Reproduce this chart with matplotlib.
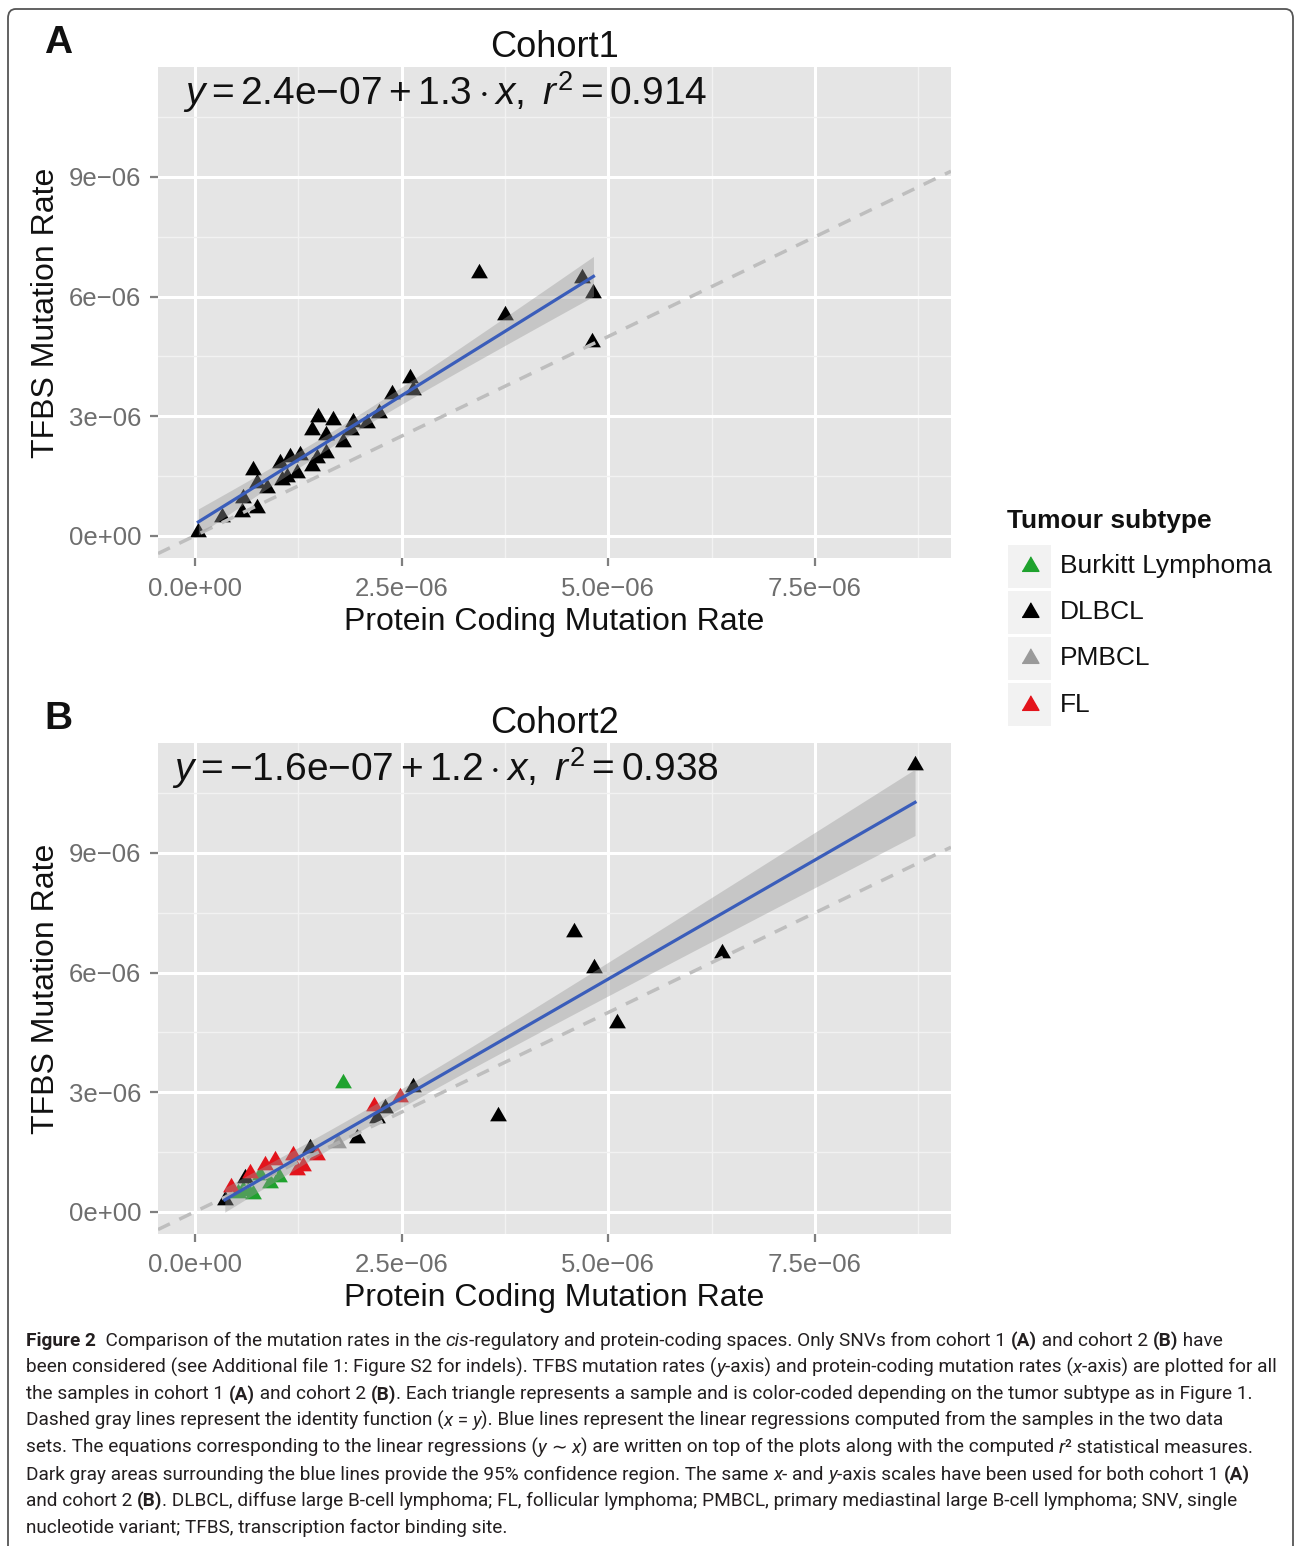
"""
Mutation rates in TFBS vs protein-coding regions for two cohorts,
with a linear fit, its 95% confidence band and the identity line.
"""

import re

import matplotlib
matplotlib.use("Agg")
import matplotlib.pyplot as plt
import numpy as np
from matplotlib.font_manager import FontProperties
from matplotlib.patches import FancyBboxPatch, Rectangle

W, H = 1295, 1546

plt.rcParams["font.family"] = ["Liberation Sans", "DejaVu Sans"]
plt.rcParams["mathtext.fontset"] = "custom"
plt.rcParams["mathtext.rm"] = "Liberation Sans"
plt.rcParams["mathtext.it"] = "Liberation Sans:italic"
plt.rcParams["mathtext.bf"] = "Liberation Sans:bold"

# ---- data (rates in units of 1e-06) ----
SUBTYPES = ["Burkitt Lymphoma", "DLBCL", "PMBCL", "FL"]
SUBTYPE_COLORS = ["#1FA22E", "#000000", "#9A9A9A", "#E3141C"]

c1_x = [3.44, 3.75, 4.68, 4.82, 4.80, 2.60, 2.64, 2.38, 2.22, 2.08, 1.91, 1.89,
        1.79, 1.49, 1.67, 1.41, 1.59, 1.59, 1.47, 1.41, 1.27, 1.15, 1.03, 1.23,
        1.11, 1.05, 0.70, 0.87, 0.75, 0.58, 0.75, 0.57, 0.33, 0.04]
c1_y = [6.59, 5.54, 6.47, 6.09, 4.87, 3.96, 3.66, 3.56, 3.08, 2.83, 2.86, 2.66,
        2.36, 2.98, 2.91, 2.66, 2.53, 2.08, 1.95, 1.74, 2.03, 1.98, 1.83, 1.58,
        1.48, 1.40, 1.65, 1.20, 1.32, 0.95, 0.70, 0.60, 0.48, 0.10]
c1_type = ["DLBCL"] * len(c1_x)

c2_x = [8.71, 4.58, 4.83, 5.10, 6.38, 3.66, 2.64, 2.30, 2.20, 1.96, 1.39, 0.60, 0.36,
        1.73,
        2.48, 2.16, 1.47, 1.19, 1.31, 1.23, 0.97, 0.85, 0.67, 0.44,
        1.79, 1.01, 0.91, 0.79, 0.64, 0.52, 0.70, 0.58]
c2_y = [11.20, 7.02, 6.11, 4.74, 6.48, 2.39, 3.14, 2.60, 2.35, 1.85, 1.60, 0.84, 0.30,
        1.72,
        2.89, 2.64, 1.43, 1.43, 1.14, 1.05, 1.30, 1.18, 0.97, 0.63,
        3.22, 0.88, 0.72, 0.93, 0.51, 0.47, 0.45, 0.55]
c2_type = (["DLBCL"] * 13 + ["PMBCL"] + ["FL"] * 10 + ["Burkitt Lymphoma"] * 8)

COHORTS = ["Cohort1", "Cohort2"]
PANEL_LETTERS = ["A", "B"]
EQUATIONS = [
    r"$y = 2.4\mathrm{e}{-}07 + 1.3 \cdot x,\ r^2 = 0.914$",
    r"$y = {-}1.6\mathrm{e}{-}07 + 1.2 \cdot x,\ r^2 = 0.938$",
]

X_TICKS = [0.0, 2.5, 5.0, 7.5]
X_TICK_LABELS = ["0.0e+00", "2.5e\u221206", "5.0e\u221206", "7.5e\u221206"]
Y_TICKS = [0, 3, 6, 9]
Y_TICK_LABELS = ["0e+00", "3e\u221206", "6e\u221206", "9e\u221206"]

T95 = 2.03  # t quantile for ~35 samples

CAPTION = [
    "**Figure 2**  Comparison of the mutation rates in the *cis*-regulatory and protein-coding spaces. Only SNVs from cohort 1 **(A)** and cohort 2 **(B)** have",
    "been considered (see Additional file 1: Figure S2 for indels). TFBS mutation rates (*y*-axis) and protein-coding mutation rates (*x*-axis) are plotted for all",
    "the samples in cohort 1 **(A)** and cohort 2 **(B)**. Each triangle represents a sample and is color-coded depending on the tumor subtype as in Figure 1.",
    "Dashed gray lines represent the identity function (*x* = *y*). Blue lines represent the linear regressions computed from the samples in the two data",
    "sets. The equations corresponding to the linear regressions (*y* \u223c *x*) are written on top of the plots along with the computed *r*\u00b2 statistical measures.",
    "Dark gray areas surrounding the blue lines provide the 95% confidence region. The same *x*- and *y*-axis scales have been used for both cohort 1 **(A)**",
    "and cohort 2 **(B)**. DLBCL, diffuse large B-cell lymphoma; FL, follicular lymphoma; PMBCL, primary mediastinal large B-cell lymphoma; SNV, single",
    "nucleotide variant; TFBS, transcription factor binding site.",
]
CAPTION_FONT = ["Roboto", "DejaVu Sans"]

TRI = [(-1.0, -0.577), (1.0, -0.577), (0.0, 1.155)]


def fit_band(x, y):
    x = np.asarray(x)
    y = np.asarray(y)
    b1, b0 = np.polyfit(x, y, 1)
    xs = np.linspace(x.min(), x.max(), 200)
    resid = y - (b0 + b1 * x)
    n = len(x)
    s = np.sqrt(np.sum(resid ** 2) / (n - 2))
    se = s * np.sqrt(1 / n + (xs - x.mean()) ** 2 / np.sum((x - x.mean()) ** 2))
    return xs, b0 + b1 * xs, T95 * se


def draw_panel(ax, xs, ys, types, title, equation, letter, top_px, eq_left):
    ax.set_facecolor("#E5E5E5")
    for sp in ax.spines.values():
        sp.set_visible(False)
    ax.set_xlim(-0.448, 9.145)
    ax.set_ylim(-0.56, 11.76)
    ax.set_xticks(X_TICKS, X_TICK_LABELS)
    ax.set_yticks(Y_TICKS, Y_TICK_LABELS)
    ax.set_xticks([1.25, 3.75, 6.25, 8.75], minor=True)
    ax.set_yticks([1.5, 4.5, 7.5, 10.5], minor=True)
    ax.grid(which="major", color="white", lw=2.2)
    ax.grid(which="minor", color="#F2F2F2", lw=1.0)
    ax.set_axisbelow(True)
    ax.tick_params(which="major", length=6, width=1.6, color="#7F7F7F",
                   labelsize=18.5, labelcolor="#6E6E6E")
    ax.tick_params(axis="x", which="major", pad=8)
    ax.tick_params(axis="y", which="major", pad=6)
    ax.tick_params(which="minor", length=0)

    xs = np.asarray(xs)
    ys = np.asarray(ys)
    types = np.asarray(types)
    for name, col in zip(SUBTYPES, SUBTYPE_COLORS):
        m = types == name
        if m.any():
            ax.scatter(xs[m], ys[m], marker=TRI, s=195, color=col,
                       linewidths=0, zorder=3)

    lim = np.array(ax.get_xlim())
    ax.plot(lim, lim, ls=(0, (3.8, 3)), color="#BEBEBE", lw=2.5, zorder=4)
    ax.set_xlim(lim)

    fx, fy, band = fit_band(xs, ys)
    ax.fill_between(fx, fy - band, fy + band, color="#999999", alpha=0.4,
                    lw=0, zorder=5)
    ax.plot(fx, fy, color="#3A5DBA", lw=2.3, zorder=6)

    ax.set_title(title, fontsize=26, pad=7, color="#111111")
    ax.set_xlabel("Protein Coding Mutation Rate", fontsize=23, labelpad=4,
                  color="#111111")
    ax.set_ylabel("TFBS Mutation Rate", fontsize=23, labelpad=6,
                  color="#111111")

    fig.text(eq_left / W, 1 - (top_px + 25) / H, equation, fontsize=28,
             va="center", ha="left", color="#111111")
    fig.text(44 / W, 1 - (top_px - 24) / H, letter, fontsize=28,
             fontweight="bold", va="center", ha="left", color="#111111")


def text_width(renderer, s, size, weight, style):
    prop = FontProperties(family=CAPTION_FONT, size=size, weight=weight,
                          style=style)
    w_bar = renderer.get_text_width_height_descent("|", prop, ismath=False)[0]
    w = renderer.get_text_width_height_descent("|" + s + "|", prop,
                                               ismath=False)[0]
    return w - 2 * w_bar


def split_rich(line):
    out = []
    for p in re.split(r"(\*\*.+?\*\*|\*.+?\*)", line):
        if not p:
            continue
        if p.startswith("**"):
            out.append((p[2:-2], "bold", "normal"))
        elif p.startswith("*"):
            out.append((p[1:-1], "normal", "italic"))
        else:
            out.append((p, "normal", "normal"))
    return out


fig = plt.figure(figsize=(W / 100, H / 100), dpi=100)

ax_a = fig.add_axes([158 / W, 1 - 558 / H, 793 / W, 491 / H])
ax_b = fig.add_axes([158 / W, 1 - 1234 / H, 793 / W, 491 / H])
draw_panel(ax_a, c1_x, c1_y, c1_type, COHORTS[0], EQUATIONS[0],
           PANEL_LETTERS[0], 67, 183)
draw_panel(ax_b, c2_x, c2_y, c2_type, COHORTS[1], EQUATIONS[1],
           PANEL_LETTERS[1], 743, 172)

# legend drawn ggplot-style on an overlay in pixel units
lax = fig.add_axes([0, 0, 1, 1], zorder=-1)
lax.set_xlim(0, W)
lax.set_ylim(H, 0)
lax.axis("off")
lax.text(1007, 521, "Tumour subtype", fontsize=19, fontweight="bold",
         va="center", ha="left", color="#111111")
for i, (name, col) in enumerate(zip(SUBTYPES, SUBTYPE_COLORS)):
    yc = 566 + 46.2 * i
    lax.add_patch(Rectangle((1008, yc - 21.5), 43, 43, fc="#F2F2F2", ec="none"))
    lax.plot([1030], [yc], ls="none", marker=TRI, ms=14, color=col)
    lax.text(1060, yc, name, fontsize=19, va="center", ha="left",
             color="#111111")

# figure border
fig.add_artist(FancyBboxPatch((8 / W, -0.02), 1285 / W, 1.02 - 9 / H,
                              boxstyle="round,pad=0,rounding_size=0.006",
                              transform=fig.transFigure, fill=False,
                              ec="#555555", lw=1.3))

# caption with bold / italic runs
renderer = fig.canvas.get_renderer()
ref = sum(text_width(renderer, s, 10, wt, st)
          for s, wt, st in split_rich(CAPTION[1]))
cap_size = 10 * (1249 / ref)
for i, line in enumerate(CAPTION):
    x = 26.0
    y = 1346 + i * 26.7
    for s, wt, st in split_rich(line):
        fig.text(x / W, 1 - y / H, s, fontsize=cap_size, fontweight=wt,
                 fontstyle=st, family=CAPTION_FONT, va="baseline",
                 ha="left", color="#231F20")
        x += text_width(renderer, s, cap_size, wt, st)

fig.savefig("out.png", dpi=100)
